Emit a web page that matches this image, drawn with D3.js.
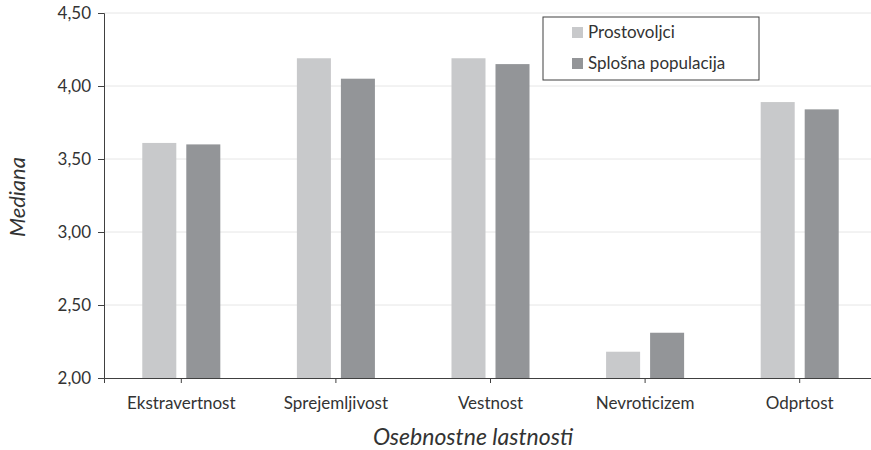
<!DOCTYPE html>
<html>
<head>
<meta charset="utf-8">
<script src="https://cdn.jsdelivr.net/npm/d3@7"></script>
<style>
  body { margin: 0; background: #fff; }
  text { font-family: Lato, "Open Sans", sans-serif; fill: #333; }
</style>
</head>
<body>
<script>
var categories = ["Ekstravertnost", "Sprejemljivost", "Vestnost", "Nevroticizem", "Odprtost"];
var seriesNames = ["Prostovoljci", "Splošna populacija"];
var volunteers = [3.61, 4.19, 4.19, 2.18, 3.89];
var population = [3.60, 4.05, 4.15, 2.31, 3.84];
var yTicks = [2.0, 2.5, 3.0, 3.5, 4.0, 4.5];
var colors = ["#c8c9cb", "#939598"];

var width = 871, height = 450,
    margin = {top: 13, right: -6, bottom: 72, left: 104};

var svg = d3.select("body").append("svg")
  .attr("width", width)
  .attr("height", height);

var x = d3.scaleBand()
  .domain(categories)
  .range([margin.left, width - margin.right]);

var x1 = d3.scaleBand()
  .domain(seriesNames)
  .range([0, x.bandwidth()])
  .paddingInner(0.227)
  .paddingOuter(0.87);

var y = d3.scaleLinear()
  .domain([2, 4.5])
  .range([height - margin.bottom, margin.top]);

var fmt = function (d) { return d3.format(".2f")(d).replace(".", ","); };

// grid
svg.append("g")
  .selectAll("line")
  .data(yTicks.slice(1))
  .join("line")
  .attr("x1", margin.left)
  .attr("x2", width)
  .attr("y1", function (d) { return y(d); })
  .attr("y2", function (d) { return y(d); })
  .attr("stroke", "#e6e6e6")
  .attr("stroke-width", 1);

// bars
var rows = categories.map(function (c, i) {
  return {cat: c, vals: [volunteers[i], population[i]]};
});

svg.append("g")
  .selectAll("g")
  .data(rows)
  .join("g")
  .attr("transform", function (d) { return "translate(" + x(d.cat) + ",0)"; })
  .selectAll("rect")
  .data(function (d) { return d.vals.map(function (v, j) { return {name: seriesNames[j], v: v, j: j}; }); })
  .join("rect")
  .attr("x", function (d) { return x1(d.name); })
  .attr("width", x1.bandwidth())
  .attr("y", function (d) { return y(d.v); })
  .attr("height", function (d) { return y(2) - y(d.v); })
  .attr("fill", function (d) { return colors[d.j]; });

// y axis
var yAxis = svg.append("g")
  .attr("transform", "translate(" + margin.left + ",0)")
  .call(d3.axisLeft(y).tickValues(yTicks).tickFormat(fmt).tickSize(6).tickPadding(7));
yAxis.selectAll("text").style("font-size", "17px");

// x axis
var xAxis = svg.append("g")
  .attr("transform", "translate(0," + y(2) + ")")
  .call(d3.axisBottom(x).tickSize(5).tickPadding(14));
xAxis.selectAll("text").style("font-size", "17px");

svg.selectAll(".domain, .tick line").attr("stroke", "#404040");
svg.selectAll(".tick text").attr("fill", "#333");

// axis titles
svg.append("text")
  .attr("x", 473)
  .attr("y", 445)
  .attr("text-anchor", "middle")
  .style("font-size", "23px")
  .style("font-style", "italic")
  .text("Osebnostne lastnosti");

svg.append("text")
  .attr("transform", "translate(25,197) rotate(-90)")
  .attr("text-anchor", "middle")
  .style("font-size", "22px")
  .style("font-style", "italic")
  .text("Mediana");

// legend
var legend = svg.append("g").attr("transform", "translate(543,17)");
legend.append("rect")
  .attr("width", 216).attr("height", 63)
  .attr("fill", "#fff").attr("stroke", "#404040");
var li = legend.selectAll("g")
  .data(seriesNames)
  .join("g")
  .attr("transform", function (d, i) { return "translate(29," + (10 + i * 31) + ")"; });
li.append("rect")
  .attr("width", 11).attr("height", 11)
  .attr("fill", function (d, i) { return colors[i]; });
li.append("text")
  .attr("x", 16).attr("y", 11)
  .style("font-size", "17px")
  .text(function (d) { return d; });
</script>
</body>
</html>
